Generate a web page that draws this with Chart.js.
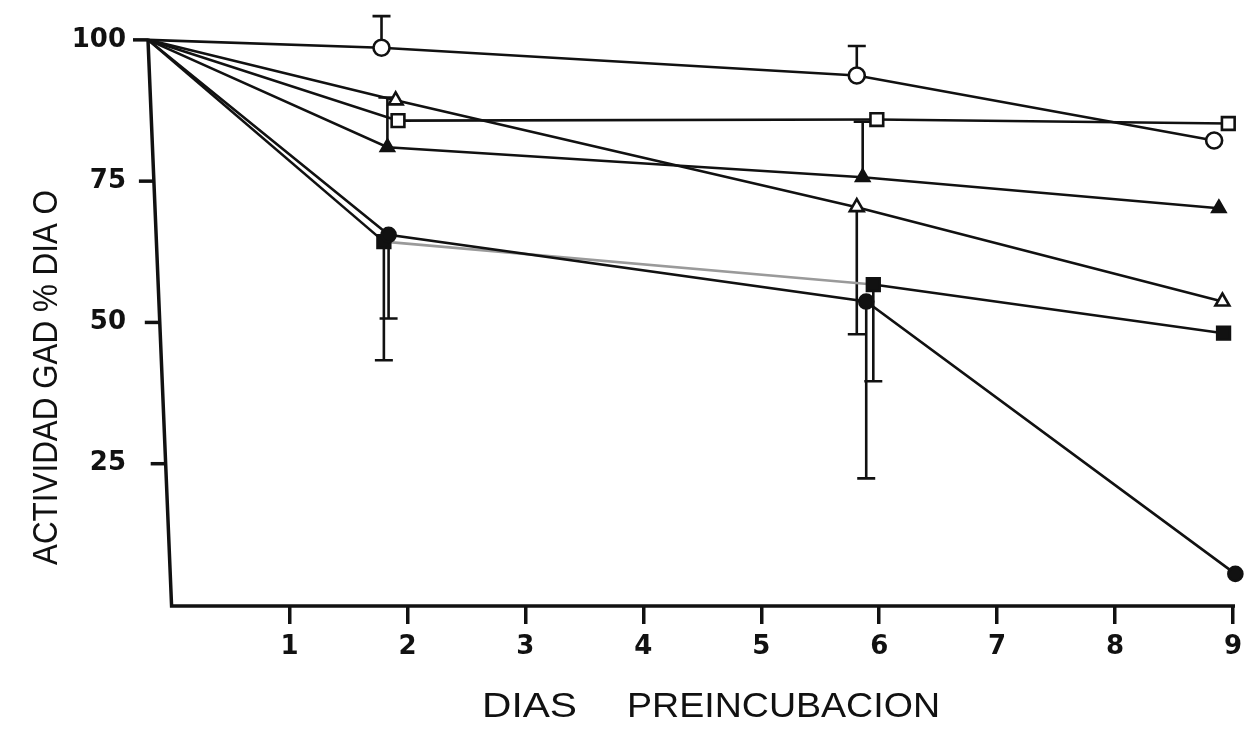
<!DOCTYPE html>
<html lang="es">
<head>
    <meta charset="UTF-8">
    <title>Actividad GAD</title>
    <style>
        body { margin: 0; background: #ffffff; }
        #wrap { width: 1254px; height: 729px; }
    </style>
</head>
<body>
<div id="wrap">
    <canvas id="gadChart" width="1254" height="729"></canvas>
</div>
<script src="https://cdn.jsdelivr.net/npm/chart.js@4.4.1/dist/chart.umd.min.js"></script>
<script>
    // values (day 0 point sits on the tilted axis)
    var xTicks = [1, 2, 3, 4, 5, 6, 7, 8, 9];
    var yTicks = [25, 50, 75, 100];

    var openCircleX = [-0.2, 1.78, 5.81, 8.84];
    var openCircleY = [100, 98.6, 93.7, 82.2];
    var openCircleErr = [null, 104.2, 98.9, null];

    var openSquareX = [-0.2, 1.92, 5.98, 8.96];
    var openSquareY = [100, 85.7, 85.9, 85.2];
    var openSquareErr = [null, null, null, null];

    var openTriangleX = [-0.2, 1.9, 5.81, 8.91];
    var openTriangleY = [100, 89.3, 70.4, 53.7];
    var openTriangleErr = [null, null, 47.9, null];

    var filledTriangleX = [-0.2, 1.83, 5.86, 8.88];
    var filledTriangleY = [100, 81, 75.7, 70.2];
    var filledTriangleErr = [null, 89.8, 85.5, null];

    var filledCircleX = [-0.2, 1.84, 5.89, 9.02];
    var filledCircleY = [100, 65.5, 53.7, 5.5];
    var filledCircleErr = [null, 50.7, 22.4, null];

    var filledSquareX = [-0.2, 1.8, 5.95, 8.92];
    var filledSquareY = [100, 64.3, 56.7, 48.1];
    var filledSquareErr = [null, 43.3, 39.6, null];

    var ink = '#111111';

    function pts(xs, ys) {
        var out = [];
        for (var i = 0; i < xs.length; i++) {
            out.push({ x: xs[i], y: ys[i] });
        }
        return out;
    }

    function series(label, xs, ys, errs, style, fill, radius) {
        return {
            label: label,
            data: pts(xs, ys),
            errs: errs,
            clip: false,
            borderColor: ink,
            borderWidth: 2.6,
            pointStyle: style,
            pointRadius: function (c) { return c.dataIndex === 0 ? 0 : radius; },
            pointBackgroundColor: fill,
            pointBorderColor: ink,
            pointBorderWidth: 2.6,
            tension: 0
        };
    }

    var datasets = [
        series('filledCircle', filledCircleX, filledCircleY, filledCircleErr, 'circle', ink, 7),
        series('filledSquare', filledSquareX, filledSquareY, filledSquareErr, 'rect', ink, 9),
        series('filledTriangle', filledTriangleX, filledTriangleY, filledTriangleErr, 'triangle', ink, 7.5),
        series('openTriangle', openTriangleX, openTriangleY, openTriangleErr, 'triangle', '#ffffff', 8),
        series('openSquare', openSquareX, openSquareY, openSquareErr, 'rect', '#ffffff', 9),
        series('openCircle', openCircleX, openCircleY, openCircleErr, 'circle', '#ffffff', 8)
    ];
    // the 2 -> 6 stretch of the filled square line is grey in the print
    datasets[1].segment = {
        borderColor: function (c) { return c.p0DataIndex === 1 ? '#9a9a9a' : ink; }
    };

    // axes, error bars and titles drawn by hand
    var handDrawn = {
        id: 'handDrawn',
        beforeDatasetsDraw: function (chart) {
            var ctx = chart.ctx;
            var xs = chart.scales.x, ys = chart.scales.y;
            ctx.save();
            ctx.strokeStyle = ink;
            ctx.lineWidth = 3.5;
            ctx.lineCap = 'butt';

            // tilted y axis and the x axis
            var topX = xs.getPixelForValue(-0.2), botX = xs.getPixelForValue(0);
            ctx.beginPath();
            ctx.moveTo(topX, ys.getPixelForValue(100));
            ctx.lineTo(botX, ys.getPixelForValue(0) + 1);
            ctx.lineTo(xs.getPixelForValue(9) + 2, ys.getPixelForValue(0) + 1);
            ctx.stroke();

            yTicks.forEach(function (v) {
                var py = ys.getPixelForValue(v);
                var ax = botX + (topX - botX) * v / 100;
                ctx.beginPath();
                ctx.moveTo(ax - 15, py);
                ctx.lineTo(ax, py);
                ctx.stroke();
            });

            // error bars
            ctx.lineWidth = 2.6;
            chart.data.datasets.forEach(function (ds) {
                ds.data.forEach(function (p, j) {
                    var e = ds.errs[j];
                    if (e === null) return;
                    var px = xs.getPixelForValue(p.x);
                    var pe = ys.getPixelForValue(e);
                    ctx.beginPath();
                    ctx.moveTo(px, ys.getPixelForValue(p.y));
                    ctx.lineTo(px, pe);
                    ctx.moveTo(px - 9, pe);
                    ctx.lineTo(px + 9, pe);
                    ctx.stroke();
                });
            });
            ctx.restore();
        },
        afterDraw: function (chart) {
            var ctx = chart.ctx;
            ctx.save();
            ctx.fillStyle = ink;
            ctx.textBaseline = 'middle';
            ctx.textAlign = 'left';

            function fitText(txt, x, y, w, font) {
                ctx.font = font;
                var m = ctx.measureText(txt).width;
                ctx.save();
                ctx.translate(x, y);
                ctx.scale(w / m, 1);
                ctx.fillText(txt, 0, 0);
                ctx.restore();
            }

            fitText('DIAS', 482, 707, 95, '35px "Liberation Sans Narrow", "Liberation Sans", sans-serif');
            fitText('PREINCUBACION', 627, 707, 313, '35px "Liberation Sans Narrow", "Liberation Sans", sans-serif');

            ctx.save();
            ctx.translate(47, 565);
            ctx.rotate(-Math.PI / 2);
            fitText('ACTIVIDAD GAD % DIA O', 0, 0, 375, '35px "Liberation Sans", sans-serif');
            ctx.restore();
            ctx.restore();
        }
    };

    var tickFont = { family: '"DejaVu Sans", sans-serif', size: 26, weight: 'bold' };

    new Chart(document.getElementById('gadChart').getContext('2d'), {
        type: 'line',
        data: { datasets: datasets },
        plugins: [handDrawn],
        options: {
            responsive: false,
            animation: false,
            layout: { padding: { top: 9, right: 21, left: 0, bottom: 0 } },
            plugins: { legend: { display: false }, tooltip: { enabled: false } },
            scales: {
                x: {
                    type: 'linear',
                    min: -0.2,
                    max: 9,
                    afterBuildTicks: function (axis) {
                        axis.ticks = xTicks.map(function (v) { return { value: v }; });
                    },
                    afterFit: function (axis) {
                        axis.height = 124;
                        axis.paddingLeft = 0;
                        axis.paddingRight = 0;
                    },
                    grid: { drawOnChartArea: false, drawTicks: true, tickLength: 19, color: ink, lineWidth: 3.5 },
                    border: { display: false },
                    ticks: { color: ink, font: tickFont, padding: 8, maxRotation: 0 }
                },
                y: {
                    type: 'linear',
                    min: 0,
                    max: 105,
                    afterBuildTicks: function (axis) {
                        axis.ticks = yTicks.map(function (v) { return { value: v }; });
                    },
                    afterFit: function (axis) {
                        axis.width = 148;
                        axis.paddingTop = 0;
                        axis.paddingBottom = 0;
                    },
                    grid: { drawOnChartArea: false, drawTicks: false },
                    border: { display: false },
                    ticks: { color: ink, font: tickFont, padding: 22 }
                }
            }
        }
    });
</script>
</body>
</html>
